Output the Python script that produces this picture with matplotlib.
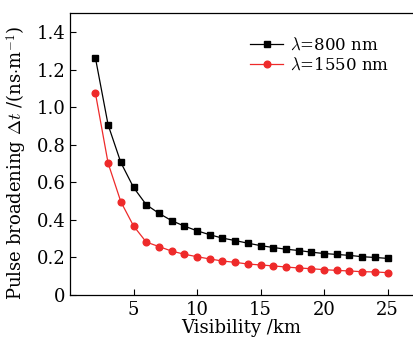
import matplotlib
matplotlib.use('Agg')
import matplotlib.pyplot as plt
import numpy as np

plt.rcParams['font.family'] = 'DejaVu Serif'
plt.rcParams['mathtext.fontset'] = 'cm'

visibility = np.arange(2, 26)
broad_800 = [1.263, 0.906, 0.706, 0.573, 0.481, 0.435, 0.396, 0.367, 0.342, 0.321,
             0.303, 0.290, 0.276, 0.263, 0.253, 0.244, 0.237, 0.228, 0.221, 0.216,
             0.211, 0.204, 0.200, 0.195]
broad_1550 = [1.075, 0.702, 0.497, 0.368, 0.282, 0.258, 0.234, 0.217, 0.204, 0.192,
              0.181, 0.174, 0.165, 0.160, 0.155, 0.149, 0.144, 0.140, 0.135, 0.131,
              0.128, 0.124, 0.123, 0.119]

fig = plt.figure(figsize=(4.13, 3.42), dpi=100)
ax = fig.add_axes([0.1695, 0.1374, 0.8305, 0.8236])

ax.plot(visibility, broad_800, color='black', marker='s', markersize=4.5, lw=0.9,
        label=r'$\lambda$=800 nm')
ax.plot(visibility, broad_1550, color='#ee2a2a', marker='o', markersize=4.8, lw=0.9,
        label=r'$\lambda$=1550 nm')

ax.set_xlim(0, 27)
ax.set_ylim(0, 1.5)
ax.set_xticks([5, 10, 15, 20, 25])
ax.set_yticks([0, 0.2, 0.4, 0.6, 0.8, 1.0, 1.2, 1.4])
ax.set_yticklabels(['0', '0.2', '0.4', '0.6', '0.8', '1.0', '1.2', '1.4'])
ax.tick_params(direction='in', labelsize=13, length=4, width=0.8)
ax.tick_params(axis='x', pad=4)
ax.tick_params(axis='y', pad=3)
ax.spines['right'].set_visible(False)
for s in ax.spines.values():
    s.set_linewidth(0.9)

ax.set_xlabel('Visibility /km', fontsize=13, labelpad=0)
ax.set_ylabel(r'Pulse broadening $\Delta t$ /(ns$\cdot$m$^{-1}$)', fontsize=13)
ax.yaxis.set_label_coords(-0.12, 0.47)

ax.legend(loc='upper right', bbox_to_anchor=(0.95, 0.94), frameon=False, fontsize=12,
          handlelength=2.0, handletextpad=0.4, labelspacing=0.2, borderaxespad=0)

fig.savefig('out.png', dpi=100)
